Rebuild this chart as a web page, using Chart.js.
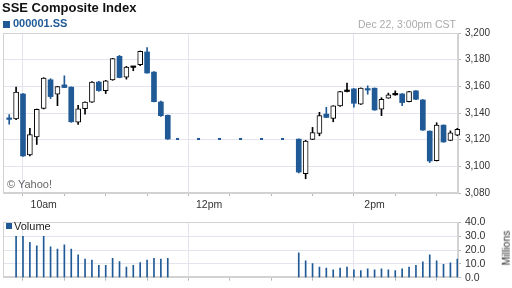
<!DOCTYPE html>
<html>
<head>
<meta charset="utf-8">
<script src="https://cdn.jsdelivr.net/npm/chart.js@4.4.0/dist/chart.umd.min.js"></script>
<style>
  body { margin: 0; width: 512px; height: 288px; background: #fff; position: relative; overflow: hidden;
         font-family: 'Liberation Sans', Arial, sans-serif; }
  canvas { position: absolute; left: 0; }
  .txt { position: absolute; white-space: nowrap; line-height: 1; }
  .sq { position: absolute; background: #1f5a96; }
  #title { left: 2px; top: 1px; font-size: 13px; font-weight: bold; color: #111; }
  #symbol { left: 13px; top: 18px; font-size: 11px; font-weight: bold; color: #1f5a96; }
  #stamp { right: 56px; top: 18.5px; font-size: 10.5px; color: #aaa; }
  #credit { left: 7px; top: 179px; font-size: 11px; color: #666; }
  #volLabel { left: 14px; top: 221px; font-size: 11px; color: #222; }
  #millions { left: 506px; top: 248px; font-size: 10.5px; color: #333; transform: translate(-50%, -50%) rotate(-90deg); }
</style>
</head>
<body>
<canvas id="priceChart" width="512" height="212" style="top:0"></canvas>
<canvas id="volumeChart" width="512" height="76" style="top:212px"></canvas>

<div class="txt" id="title">SSE Composite Index</div>
<div class="sq" style="left:3px;top:21px;width:7px;height:7px"></div>
<div class="txt" id="symbol">000001.SS</div>
<div class="txt" id="stamp">Dec 22, 3:00pm CST</div>
<div class="txt" id="credit">© Yahoo!</div>
<div class="sq" style="left:6px;top:223px;width:6px;height:6px"></div>
<div class="txt" id="volLabel">Volume</div>
<div class="txt" id="millions">Millions</div>

<script>
// 5 minute bars, morning and afternoon session
const times = ['9:35', '9:40', '9:45', '9:50', '9:55', '10:00', '10:05', '10:10', '10:15', '10:20', '10:25', '10:30',
    '10:35', '10:40', '10:45', '10:50', '10:55', '11:00', '11:05', '11:10', '11:15', '11:20', '11:25', '11:30',
    '13:05', '13:10', '13:15', '13:20', '13:25', '13:30', '13:35', '13:40', '13:45', '13:50', '13:55', '14:00',
    '14:05', '14:10', '14:15', '14:20', '14:25', '14:30', '14:35', '14:40', '14:45', '14:50', '14:55', '15:00'];
const openPrices = [3135.6, 3135.5, 3154.3, 3108.5, 3122.1, 3143.5, 3164.9, 3154.1, 3161.1, 3159.4, 3133.2, 3143.2,
    3148.1, 3163.2, 3156.8, 3164.9, 3182.5, 3166.9, 3174.2, 3176.2, 3185.8, 3170.7, 3148.3, 3138.3,
    3120.4, 3094.5, 3120.2, 3124.7, 3139.2, 3136.0, 3145.3, 3156.1, 3158.1, 3146.6, 3157.6, 3158.6,
    3142.8, 3151.1, 3153.6, 3154.3, 3148.5, 3156.6, 3149.8, 3126.4, 3104.3, 3130.9, 3119.4, 3123.4];
const highPrices = [3138.8, 3159.4, 3154.5, 3128.5, 3143.0, 3166.5, 3165.7, 3160.0, 3167.9, 3159.6, 3145.8, 3148.3,
    3163.5, 3163.8, 3164.5, 3181.0, 3183.2, 3175.0, 3174.5, 3186.5, 3189.0, 3171.0, 3149.0, 3138.5,
    3120.6, 3119.5, 3129.2, 3140.5, 3144.3, 3145.5, 3156.3, 3162.4, 3158.3, 3158.8, 3160.4, 3158.8,
    3151.5, 3154.9, 3156.6, 3154.5, 3156.3, 3156.8, 3150.1, 3126.6, 3132.7, 3131.1, 3126.6, 3128.5];
const lowPrices = [3131.6, 3135.0, 3107.5, 3107.8, 3116.4, 3143.0, 3150.8, 3145.5, 3159.0, 3133.0, 3131.5, 3139.2,
    3148.0, 3156.3, 3154.6, 3164.5, 3166.4, 3165.4, 3171.7, 3175.5, 3169.8, 3148.3, 3137.5, 3120.2,
    3095.0, 3090.7, 3120.0, 3122.9, 3136.5, 3133.4, 3145.0, 3155.8, 3144.3, 3146.4, 3154.1, 3142.0,
    3138.0, 3151.0, 3153.3, 3145.5, 3148.3, 3150.0, 3127.0, 3102.8, 3104.0, 3118.0, 3119.2, 3123.0];
const closePrices = [3135.2, 3155.6, 3107.8, 3123.9, 3142.8, 3166.2, 3152.3, 3159.8, 3159.1, 3133.4, 3143.2, 3148.1,
    3163.2, 3156.8, 3164.2, 3180.8, 3166.6, 3174.5, 3174.2, 3186.3, 3170.0, 3148.5, 3138.0, 3120.5,
    3095.7, 3118.9, 3125.4, 3138.0, 3136.7, 3145.3, 3156.1, 3156.1, 3147.3, 3158.6, 3157.2, 3142.3,
    3150.3, 3153.6, 3153.6, 3147.8, 3156.1, 3150.3, 3127.2, 3104.0, 3130.9, 3118.3, 3125.1, 3127.7];
// volume in millions
const volumes = [null, 29.8, 29.8, 25.5, 23.0, 29.8, 22.3, 20.6, 23.8, 20.6, 16.6, 13.4,
    12.8, 8.9, 8.9, 14.0, 11.7, 7.7, 8.9, 11.0, 12.8, 14.0, 13.4, 14.0,
    17.9, 12.1, 10.2, 7.7, 7.0, 5.7, 7.0, 7.7, 5.7, 5.1, 6.4, 5.7,
    6.4, 5.7, 5.1, 6.4, 7.7, 8.9, 11.5, 16.6, 12.1, 9.6, 10.8, 13.4];
const lunchTimes = ['11:36', '13:00'];
const priceTicks = [3080, 3100, 3120, 3140, 3160, 3180, 3200];
const volumeTicks = [0, 10, 20, 30, 40];
const timeTicks = ['10:00', '10:30', '11:00', '11:30', '12:00', '12:30', '13:00', '13:30', '14:00', '14:30'];
const timeLabels = { '10:00': '10am', '12:00': '12pm', '14:00': '2pm' };

const blue = '#1f5a96';
const gridColor = '#e4e4ee';
const frameColor = '#d2d2d2';
const tickColor = '#b8b8b8';
const fontFamily = "'Liberation Sans', Arial, sans-serif";

function toMinutes(t) {
    const parts = t.split(':');
    return (Number(parts[0]) - 9) * 60 + Number(parts[1]) - 30;
}

const labelAt = {};
for (let t in timeLabels) labelAt[toMinutes(t)] = timeLabels[t];

function candleKind(i) {
    if (closePrices[i] > openPrices[i]) return 'up';
    if (closePrices[i] < openPrices[i]) return 'down';
    return 'flat';
}

const framePlugin = {
    id: 'frame',
    beforeDatasetsDraw(chart) {
        const a = chart.chartArea;
        const ctx = chart.ctx;
        ctx.save();
        ctx.strokeStyle = frameColor;
        ctx.lineWidth = 1;
        ctx.strokeRect(Math.round(a.left) + 0.5, Math.round(a.top) + 0.5,
            Math.round(a.right - a.left) - 1, Math.round(a.bottom - a.top) - 1);
        ctx.restore();
    }
};

function timeAxis(showLabels, height) {
    return {
        type: 'linear',
        min: 0.5,
        max: 330.5,
        offset: false,
        afterBuildTicks: (scale) => { scale.ticks = timeTicks.map(t => ({ value: toMinutes(t) })); },
        afterFit: (scale) => { scale.height = height; },
        grid: {
            color: (ctx) => (ctx.tick && labelAt[ctx.tick.value] ? gridColor : 'rgba(0,0,0,0)'),
            tickColor: tickColor,
            tickLength: 3,
            drawTicks: true
        },
        border: { color: frameColor },
        ticks: {
            display: showLabels,
            autoSkip: false,
            maxRotation: 0,
            padding: 3,
            color: '#333',
            font: { family: fontFamily, size: 10.5 },
            callback: (v) => labelAt[v] || ''
        }
    };
}

function rightAxis(min, max, tickValues, fontSize, format) {
    return {
        position: 'right',
        min: min,
        max: max,
        afterBuildTicks: (scale) => { scale.ticks = tickValues.map(v => ({ value: v })); },
        afterFit: (scale) => { scale.width = 54; },
        grid: { color: gridColor, tickColor: tickColor, tickLength: 3 },
        border: { color: frameColor },
        ticks: {
            autoSkip: false,
            padding: 4,
            color: '#333',
            font: { family: fontFamily, size: fontSize },
            callback: format
        }
    };
}

const kinds = times.map((t, i) => candleKind(i));

new Chart('priceChart', {
    type: 'bar',
    data: {
        datasets: [{
            type: 'line',
            data: lunchTimes.map(t => ({ x: toMinutes(t), y: closePrices[23] })),
            borderColor: blue,
            borderWidth: 2,
            borderDash: [3, 18],
            pointRadius: 0,
            order: 3
        }, {
            data: times.map((t, i) => ({ x: toMinutes(t), y: [lowPrices[i], highPrices[i]] })),
            backgroundColor: kinds.map(k => (k == 'down' ? blue : '#000')),
            barThickness: 1,
            grouped: false,
            clip: false,
            order: 2
        }, {
            data: times.map((t, i) => ({ x: toMinutes(t), y: [openPrices[i], closePrices[i]] })),
            backgroundColor: kinds.map(k => (k == 'up' ? '#fff' : k == 'down' ? blue : '#000')),
            borderColor: kinds.map(k => (k == 'down' ? blue : '#000')),
            borderWidth: kinds.map(k => (k == 'up' ? 1 : 0)),
            borderSkipped: false,
            minBarLength: 1.5,
            barThickness: 5,
            grouped: false,
            clip: false,
            order: 1
        }]
    },
    options: {
        responsive: false,
        animation: false,
        layout: { padding: { top: 33, left: 3, right: 0, bottom: 0 } },
        plugins: { legend: { display: false }, tooltip: { enabled: false } },
        scales: {
            x: timeAxis(true, 19),
            y: rightAxis(3080, 3200, priceTicks, 10, (v) => v.toLocaleString('en-US'))
        }
    },
    plugins: [framePlugin]
});

new Chart('volumeChart', {
    type: 'bar',
    data: {
        datasets: [{
            data: times.map((t, i) => ({ x: toMinutes(t), y: volumes[i] })),
            backgroundColor: blue,
            barThickness: 1,
            grouped: false
        }]
    },
    options: {
        responsive: false,
        animation: false,
        layout: { padding: { top: 3, left: 3, right: 0, bottom: 0 } },
        plugins: { legend: { display: false }, tooltip: { enabled: false } },
        scales: {
            x: timeAxis(false, 8),
            y: rightAxis(0, 40, volumeTicks, 10.5, (v) => v.toFixed(1))
        }
    },
    plugins: [framePlugin]
});
</script>
</body>
</html>
